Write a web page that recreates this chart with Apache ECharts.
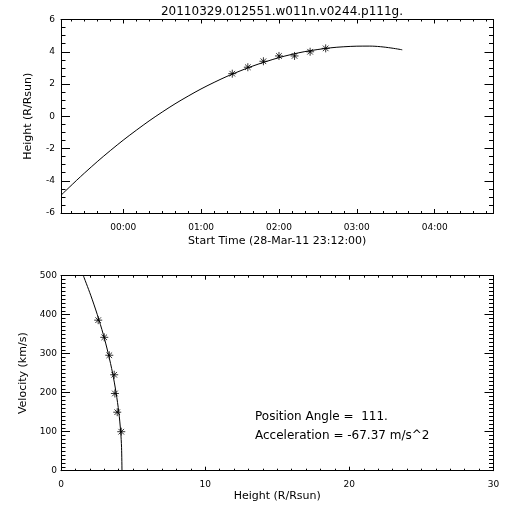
<!DOCTYPE html>
<html><head><meta charset="utf-8">
<script src="https://cdn.jsdelivr.net/npm/echarts@6/dist/echarts.min.js"></script>
<style>html,body{margin:0;padding:0;background:#fff}#c{width:512px;height:512px}</style>
</head><body><div id="c"></div>
<script>
// ---------- data ----------
const titleText = '20110329.012551.w011n.v0244.p111g.';
const timeAxisName = 'Start Time (28-Mar-11 23:12:00)';
// time values are minutes relative to 29-Mar-11 00:00
const timeTickValues = [0, 60, 120, 180, 240];
const timeTickLabels = ['00:00', '01:00', '02:00', '03:00', '04:00'];
const obsTimes   = [84, 96, 108, 120, 132, 144, 156];
const obsHeights = [2.64, 3.04, 3.41, 3.74, 3.74, 4.00, 4.21];
const fitTimes   = [-48, -30, -10, 10, 30, 50, 70, 90, 110, 130, 150, 170, 190, 215];
const fitHeights = [-4.90, -3.53, -2.13, -0.87, 0.26, 1.25, 2.10, 2.81, 3.39, 3.84, 4.14, 4.31, 4.35, 4.12];

const velHeights = [2.58, 3.00, 3.35, 3.69, 3.74, 3.90, 4.18];
const velValues  = [386, 342, 296, 246, 198, 150, 100];
const velFitHeights = [1.55, 2.06, 2.52, 2.93, 3.28, 3.58, 3.82, 4.01, 4.14, 4.20, 4.23];
const velFitValues  = [500, 450, 400, 350, 300, 250, 200, 150, 100, 60, 0];

const annotationLines = ['Position Angle =  111.', 'Acceleration = -67.37 m/s^2'];

// ---------- styling ----------
const FONT = 'DejaVu Sans';
const BLACK = '#000';
const tMin = -48, tMax = 285.33;
const timeMinorTicks = [];
for (let v = -40; v <= 280; v += 10) timeMinorTicks.push(v);

const zip = (a, b) => a.map((v, i) => [v, b[i]]);
const line = { lineStyle: { color: BLACK, width: 1 } };
const lbl = { fontFamily: FONT, fontSize: 9, color: BLACK };
const nameStyle = { fontFamily: FONT, fontSize: 11, color: BLACK };
const star = 'path://M4,0L4,8M0,4L8,4M1.2,1.2L6.8,6.8M1.2,6.8L6.8,1.2';

function timeAxis(position, values, len, labels) {
  const ax = {
    gridIndex: 0, type: 'value', position, min: tMin, max: tMax,
    axisLine: { show: values === timeTickValues, onZero: false, ...line },
    axisTick: { show: true, inside: true, length: len, customValues: values, ...line },
    axisLabel: { show: false },
    splitLine: { show: false }
  };
  if (labels) {
    ax.axisLabel = { show: true, customValues: timeTickValues, margin: 10, ...lbl,
      formatter: v => timeTickLabels[timeTickValues.indexOf(v)] };
    ax.name = timeAxisName; ax.nameLocation = 'middle'; ax.nameGap = 23; ax.nameTextStyle = nameStyle;
  }
  return ax;
}

function valAxis(gridIndex, position, min, max, interval, minorSplit, tickLen, labels, name, nameGap, margin) {
  const ax = {
    gridIndex, type: 'value', position, min, max, interval,
    axisLine: { show: true, onZero: false, ...line },
    axisTick: { show: true, inside: true, length: tickLen, ...line },
    minorTick: { show: true, splitNumber: minorSplit, length: tickLen / 2, ...line },
    axisLabel: labels ? { show: true, margin, ...lbl } : { show: false },
    splitLine: { show: false }, minorSplitLine: { show: false }
  };
  if (name) { ax.name = name; ax.nameLocation = 'middle'; ax.nameGap = nameGap; ax.nameTextStyle = nameStyle; }
  return ax;
}

const option = {
  animation: false,
  backgroundColor: '#fff',
  title: { text: titleText, left: 277, top: 1, textAlign: 'center',
    textStyle: { fontFamily: FONT, fontSize: 12, fontWeight: 'normal', color: BLACK } },
  grid: [
    { left: 61, top: 19.5, width: 432.5, height: 193.5 },
    { left: 61, top: 275.7, width: 432.5, height: 195 }
  ],
  xAxis: [
    timeAxis('bottom', timeTickValues, 4, true),
    timeAxis('bottom', timeMinorTicks, 2, false),
    timeAxis('top', timeTickValues, 4, false),
    timeAxis('top', timeMinorTicks, 2, false),
    valAxis(1, 'bottom', 0, 30, 10, 10, 4, true, 'Height (R/Rsun)', 20, 9),
    valAxis(1, 'top', 0, 30, 10, 10, 4, false)
  ],
  yAxis: [
    valAxis(0, 'left', -6, 6, 2, 4, 9, true, 'Height (R/Rsun)', 27, 6),
    valAxis(0, 'right', -6, 6, 2, 4, 9, false),
    valAxis(1, 'left', 0, 500, 100, 10, 9, true, 'Velocity (km/s)', 27, 4),
    valAxis(1, 'right', 0, 500, 100, 10, 9, false)
  ],
  series: [
    { type: 'line', xAxisIndex: 0, yAxisIndex: 0, data: zip(fitTimes, fitHeights), smooth: 0.4,
      symbol: 'none', lineStyle: { color: BLACK, width: 1 }, clip: true, silent: true },
    { type: 'scatter', xAxisIndex: 0, yAxisIndex: 0, data: zip(obsTimes, obsHeights), symbol: star,
      symbolSize: 8, itemStyle: { color: 'none', borderColor: BLACK, borderWidth: 1 } },
    { type: 'line', xAxisIndex: 4, yAxisIndex: 2, data: zip(velFitHeights, velFitValues), smooth: 0.3,
      symbol: 'none', lineStyle: { color: BLACK, width: 1 }, clip: true, silent: true },
    { type: 'scatter', xAxisIndex: 4, yAxisIndex: 2, data: zip(velHeights, velValues), symbol: star,
      symbolSize: 8, itemStyle: { color: 'none', borderColor: BLACK, borderWidth: 1 } }
  ],
  graphic: annotationLines.map((t, i) => ({
    type: 'text', left: 255, top: 411 + i * 19,
    style: { text: t, fontFamily: FONT, fontSize: 12, fill: BLACK }
  }))
};

const chart = echarts.init(document.getElementById('c'), null, { renderer: 'canvas' });
chart.setOption(option);
</script>
</body></html>
